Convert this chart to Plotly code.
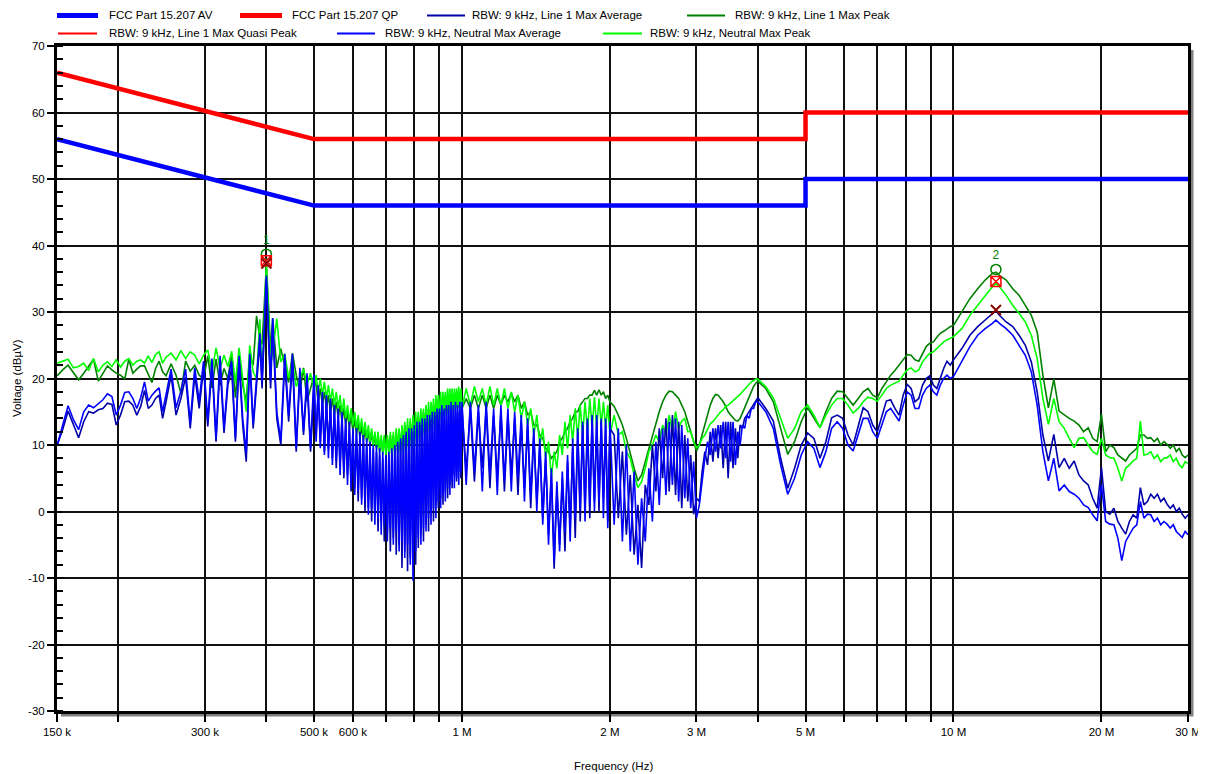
import plotly.graph_objects as go

# ---------------- data (frequency in MHz, level in dBuV) ----------------
freq_mhz = [
    0.150, 0.154, 0.158, 0.162, 0.166, 0.170, 0.174, 0.178, 0.182, 0.186, 0.190, 0.194, 0.198,
    0.202, 0.206, 0.210, 0.214, 0.218, 0.222, 0.226, 0.230, 0.234, 0.238, 0.242, 0.246, 0.250,
    0.256, 0.262, 0.268, 0.274, 0.280, 0.286, 0.292, 0.298, 0.304, 0.310, 0.316, 0.322, 0.328,
    0.334, 0.340, 0.346, 0.352, 0.358, 0.364, 0.370, 0.376, 0.382, 0.388,
    0.392, 0.396, 0.400, 0.404, 0.408,
    0.412, 0.420, 0.428, 0.436, 0.444, 0.452, 0.460, 0.468, 0.476, 0.484, 0.492, 0.500,
    0.505, 0.510, 0.515, 0.520, 0.525, 0.530, 0.535, 0.540, 0.545, 0.550,
    0.555, 0.560, 0.565, 0.570, 0.575, 0.580, 0.585, 0.590, 0.595, 0.600,
    0.605, 0.610, 0.615, 0.620, 0.625, 0.630, 0.635, 0.640, 0.645, 0.650,
    0.655, 0.660, 0.665, 0.670, 0.675, 0.680, 0.685, 0.690, 0.695, 0.700,
    0.705, 0.710, 0.715, 0.720, 0.725, 0.730, 0.735, 0.740, 0.745, 0.750,
    0.755, 0.760, 0.765, 0.770, 0.775, 0.780, 0.785, 0.790, 0.795, 0.800,
    0.805, 0.810, 0.815, 0.820, 0.825, 0.830, 0.835, 0.840, 0.845, 0.850,
    0.855, 0.860, 0.865, 0.870, 0.875, 0.880, 0.885, 0.890, 0.895, 0.900,
    0.905, 0.910, 0.915, 0.920, 0.925, 0.930, 0.935, 0.940, 0.945, 0.950,
    0.955, 0.960, 0.965, 0.970, 0.975, 0.980, 0.985, 0.990, 0.995, 1.000,
    1.02, 1.04, 1.06, 1.08, 1.10, 1.12, 1.14, 1.16, 1.18, 1.20,
    1.22, 1.24, 1.26, 1.28, 1.30, 1.32, 1.34, 1.36, 1.38, 1.40,
    1.42, 1.44, 1.46, 1.48, 1.50, 1.52, 1.54, 1.56, 1.58, 1.60,
    1.62, 1.64, 1.66, 1.68, 1.70, 1.72, 1.74, 1.76, 1.78, 1.80,
    1.82, 1.84, 1.86, 1.88, 1.90, 1.92, 1.94, 1.96, 1.98, 2.00,
    2.04, 2.08, 2.12, 2.16, 2.20, 2.24, 2.28, 2.32, 2.36, 2.40,
    2.44, 2.48, 2.52, 2.56, 2.60, 2.64, 2.68, 2.72, 2.76, 2.80,
    2.84, 2.88, 2.92, 2.96, 3.00, 3.04, 3.08, 3.12, 3.16, 3.20,
    3.24, 3.28, 3.32, 3.36, 3.40, 3.44, 3.48, 3.52, 3.56, 3.60,
    3.64, 3.68, 3.72, 3.76, 3.80, 3.84, 3.88, 3.92, 3.96, 4.00,
    4.15, 4.30, 4.45, 4.60, 4.75, 4.90, 5.05, 5.20, 5.35, 5.50, 5.65, 5.80, 5.95, 6.10, 6.25,
    6.40, 6.55, 6.70, 6.85, 7.00, 7.15, 7.30, 7.45, 7.60, 7.75, 7.90, 8.05, 8.20, 8.35, 8.50,
    8.65, 8.80, 8.95, 9.10, 9.25, 9.40, 9.55, 9.70, 9.85, 10.0,
    10.4, 10.8, 11.2, 11.6, 12.0, 12.2, 12.4, 12.8, 13.2, 13.6, 14.0, 14.4, 14.8, 15.2, 15.6,
    16.0, 16.4, 16.8, 17.2, 17.6, 18.0, 18.4, 18.8, 19.2, 19.6, 20.0, 20.4, 20.8, 21.2, 21.6,
    22.0, 22.4, 22.8, 23.2, 23.6, 24.0, 24.4, 24.8, 25.2, 25.6, 26.0, 26.4, 26.8, 27.2, 27.6,
    28.0, 28.4, 28.8, 29.2, 29.6, 30.0,
]

line1_pk = [
    20.4, 21.3, 22.0, 20.8, 19.8, 20.8, 21.8, 22.9, 19.6, 20.8, 21.9, 21.3, 20.8, 20.5, 19.9,
    22.9, 20.8, 21.4, 21.9, 21.9, 20.5, 19.4, 21.5, 22.6, 21.0, 20.4,
    22.2, 20.5, 17.8, 22.6, 21.1, 22.0, 20.5, 19.9, 23.4, 18.6, 22.9, 19.0, 21.5, 20.0, 23.7,
    17.1, 23.7, 19.0, 16.6, 23.4, 22.0, 29.4, 26.0,
    25.1, 31.0, 37.0, 31.0, 24.0,
    29.1, 21.6, 24.5, 22.0, 19.4, 23.8, 20.5, 18.1, 21.6, 16.6, 18.5, 20.4,
    19.0, 16.5, 18.5, 16.0, 18.0, 15.5, 17.5, 15.0, 17.0, 14.5,
    16.5, 14.0, 16.0, 13.5, 15.5, 13.0, 15.0, 12.5, 14.5, 12.0,
    14.0, 11.5, 13.5, 11.0, 13.0, 10.5, 12.5, 10.5, 12.0, 10.0,
    12.0, 9.8, 11.5, 9.5, 11.5, 9.0, 11.0, 9.0, 11.2, 9.0,
    11.0, 9.0, 11.5, 8.5, 11.5, 9.0, 12.0, 9.0, 12.2, 9.2,
    12.5, 9.5, 13.0, 9.0, 13.0, 9.5, 13.5, 10.0, 14.0, 10.0,
    14.0, 10.5, 14.5, 11.0, 14.5, 11.5, 15.0, 11.5, 15.5, 12.0,
    15.5, 12.0, 16.0, 12.5, 16.0, 13.0, 16.5, 13.5, 17.0, 13.8,
    17.0, 14.0, 17.0, 14.5, 17.5, 14.5, 17.5, 15.0, 17.5, 15.0,
    17.5, 15.0, 17.5, 15.5, 17.5, 15.5, 17.5, 15.5, 17.5, 15.5,
    17.0, 15.5, 17.5, 15.5, 17.5, 15.5, 17.5, 15.5, 17.5, 16.0,
    17.5, 16.5, 17.8, 16.5, 17.5, 15.5, 16.5, 14.5, 15.0, 13.0,
    13.0, 11.5, 11.0, 9.5, 9.0, 8.0, 8.5, 9.0, 10.5, 11.0,
    12.0, 12.5, 13.5, 14.0, 15.0, 15.0, 16.0, 16.5, 17.0, 17.0,
    17.5, 17.5, 18.2, 17.5, 18.3, 17.5, 18.0, 17.0, 17.5, 16.5,
    15.8, 14.5, 13.0, 11.0, 8.5, 6.5, 4.6, 5.5, 7.5, 9.5,
    11.5, 13.5, 15.0, 16.5, 17.5, 18.1, 18.0, 17.5, 17.0, 16.0,
    15.0, 13.5, 12.0, 10.5, 9.1, 10.0, 11.5, 13.0, 14.5, 16.0,
    17.0, 17.6, 17.5, 17.0, 16.5, 15.8, 15.0, 14.5, 14.0, 13.7,
    13.6, 14.0, 14.8, 15.6, 16.5, 17.3, 18.0, 18.8, 19.3, 19.6,
    18.5, 16.5, 12.5, 8.6, 10.5, 13.5, 15.6, 14.0, 12.6, 15.0, 17.0, 18.1, 18.0, 17.0, 16.0,
    17.0, 18.0, 18.5, 17.5, 17.1, 18.5, 19.5, 20.5, 21.2, 22.0, 22.8, 23.6, 23.5, 22.8, 22.6,
    23.8, 24.8, 25.3, 25.5, 26.2, 26.8, 27.1, 27.5, 27.8, 28.0,
    30.0, 32.0, 33.5, 34.8, 35.8, 36.0, 35.5, 34.8, 33.5, 32.5, 31.0, 29.5, 27.0, 20.5, 15.6,
    19.9, 15.1, 14.5, 14.0, 13.6, 13.0, 12.0, 12.6, 11.0, 10.5, 14.6, 9.0, 10.0, 9.6, 8.5,
    8.0, 7.6, 8.5, 9.0, 9.5, 11.5, 11.5, 11.0, 11.1, 10.5, 11.0, 10.0, 10.5, 10.1, 9.5,
    10.0, 9.0, 9.5, 8.5, 8.1, 8.5,
]

neutral_pk = [
    22.3, 22.6, 22.9, 21.6, 21.8, 22.3, 21.2, 23.0, 21.0, 22.0, 22.5, 21.8, 22.8, 21.7, 22.6,
    23.0, 22.0, 22.6, 22.8, 22.3, 23.4, 22.4, 23.6, 24.0, 22.3, 23.2,
    23.8, 22.8, 24.2, 23.0, 24.0, 23.5, 22.2, 23.5, 24.3, 21.0, 24.6, 21.5, 23.5, 21.8, 24.1,
    19.3, 24.6, 20.0, 15.0, 25.0, 21.0, 20.0, 28.9,
    20.0, 30.0, 37.0, 30.0, 22.0,
    24.0, 29.0, 22.5, 23.7, 20.1, 22.2, 18.8, 20.0, 21.4, 19.1, 20.8, 18.4,
    20.5, 18.0, 20.0, 17.5, 19.5, 17.0, 19.0, 16.5, 18.5, 16.0,
    18.0, 15.5, 17.5, 14.5, 17.0, 14.0, 16.0, 13.5, 15.5, 13.0,
    15.0, 12.5, 14.5, 12.0, 14.0, 11.5, 13.5, 11.0, 13.0, 10.5,
    12.5, 10.0, 12.0, 9.5, 12.0, 9.0, 11.5, 8.5, 11.5, 8.5,
    11.5, 8.5, 12.0, 8.0, 12.0, 8.5, 12.5, 9.0, 12.5, 8.5,
    13.0, 9.0, 13.5, 8.5, 14.0, 9.0, 14.0, 9.5, 14.5, 9.5,
    15.0, 10.0, 15.0, 10.5, 15.5, 11.0, 15.5, 11.0, 16.0, 11.5,
    16.5, 12.0, 16.5, 12.5, 17.0, 12.5, 17.5, 13.0, 17.5, 13.5,
    18.0, 14.0, 18.0, 14.5, 18.0, 14.5, 18.5, 15.0, 18.5, 15.0,
    18.5, 15.0, 18.5, 15.5, 18.5, 15.5, 18.8, 15.5, 18.5, 15.5,
    18.5, 16.0, 18.8, 16.5, 18.5, 16.0, 18.8, 16.0, 18.5, 16.0,
    18.5, 15.5, 18.0, 15.0, 17.5, 14.0, 16.5, 13.0, 15.5, 11.5,
    14.5, 10.0, 12.5, 8.0, 10.5, 5.0, 9.0, 6.5, 11.5, 8.5,
    13.5, 9.5, 14.5, 10.5, 15.5, 11.0, 16.0, 11.5, 16.5, 12.0,
    17.0, 12.5, 17.2, 12.5, 17.0, 13.0, 16.5, 12.5, 16.0, 11.5,
    14.5, 11.5, 12.0, 9.0, 8.0, 5.5, 3.6, 4.5, 6.5, 9.0,
    10.0, 11.5, 10.5, 13.0, 11.5, 14.5, 12.0, 15.0, 12.5, 13.6,
    14.0, 12.0, 12.0, 10.5, 9.6, 10.0, 11.0, 11.5, 12.5, 13.2,
    13.5, 14.0, 14.5, 15.0, 15.3, 15.8, 16.0, 16.3, 16.6, 17.0,
    17.3, 17.6, 18.0, 18.4, 18.8, 19.2, 19.5, 19.7, 19.9, 19.9,
    18.8, 17.1, 14.0, 11.0, 12.5, 15.0, 16.0, 14.5, 12.6, 14.5, 16.0, 17.0, 17.0, 16.0, 14.8,
    15.5, 16.5, 17.2, 17.0, 16.6, 17.5, 18.5, 19.0, 19.3, 19.6, 20.5, 21.3, 21.6, 21.0, 21.3,
    22.5, 23.2, 23.8, 24.0, 24.5, 25.0, 25.5, 25.8, 26.0, 26.3,
    27.5, 29.5, 31.0, 32.5, 33.8, 34.3, 33.8, 32.5, 31.0, 29.8, 28.5, 26.5, 23.0, 17.0, 13.1,
    17.0, 13.5, 12.5, 11.0, 9.6, 11.0, 11.1, 10.0, 9.0, 8.6, 11.0, 8.5, 8.1, 8.0, 6.5,
    4.6, 6.5, 7.0, 7.6, 8.0, 13.6, 8.5, 8.6, 9.0, 8.0, 8.5, 7.5, 8.0, 8.1, 8.5,
    7.5, 8.0, 7.0, 6.6, 7.5, 7.2,
]

line1_avg = [
    9.9, 12.3, 15.1, 13.2, 11.1, 13.5, 15.0, 14.8, 15.3, 15.5, 16.3, 16.1, 13.0, 14.5, 16.5,
    16.6, 16.0, 14.5, 15.8, 18.2, 15.5, 16.0, 17.0, 17.5, 14.0, 16.5,
    20.5, 14.5, 17.0, 20.2, 12.5, 20.5, 15.5, 21.5, 12.8, 22.0, 10.5, 22.0, 11.8, 19.0, 21.5,
    10.5, 22.5, 13.0, 7.5, 22.8, 12.5, 19.0, 25.5,
    18.5, 26.0, 35.0, 26.0, 18.5,
    28.0, 14.0, 10.0, 22.5, 13.5, 22.5, 9.0, 20.5, 11.5, 19.5, 9.0, 19.0,
    11.5, 18.0, 10.5, 17.0, 9.0, 16.5, 9.5, 16.0, 8.0, 15.0,
    6.5, 14.5, 7.0, 14.0, 5.0, 13.0, 5.5, 12.5, 3.0, 12.0,
    3.5, 11.5, 1.5, 11.0, 2.0, 10.5, 0.0, 10.0, 0.5, 9.5,
    -1.5, 9.5, -0.5, 9.0, -3.0, 8.5, -1.5, 8.0, -4.5, 7.5,
    -3.0, 8.5, -6.0, 9.0, -4.0, 9.5, -6.5, 10.0, -5.0, 10.5,
    -8.5, 11.0, -6.0, 11.5, -9.0, 11.5, -7.0, 12.0, -6.5, 12.0,
    -8.0, 12.5, -5.5, 13.0, -3.5, 13.0, -4.5, 13.5, -2.0, 13.5,
    -3.0, 14.0, 0.0, 14.0, -1.5, 14.5, 1.0, 14.5, 0.5, 15.0,
    2.0, 15.0, 1.0, 15.0, 3.0, 15.5, 2.0, 15.0, 4.0, 15.5,
    3.5, 15.0, 5.5, 15.5, 4.5, 15.0, 6.0, 15.5, 5.0, 15.5,
    6.0, 15.5, 4.5, 15.0, 6.5, 15.5, 3.5, 14.5, 5.0, 15.0,
    3.0, 14.5, 5.5, 14.0, 2.5, 13.5, 3.5, 13.0, 0.5, 11.5,
    1.5, 10.0, -1.0, 8.0, -3.5, 5.5, -8.6, 3.5, -5.0, 5.0,
    -6.0, 7.5, -2.5, 9.5, -4.0, 12.0, -1.5, 13.0, 0.5, 13.5,
    -1.0, 14.0, 1.5, 13.5, 0.0, 13.5, 2.0, 13.0, -1.5, 12.5,
    11.5, -1.0, 9.0, -3.5, 5.5, -6.5, 1.0, -8.5, 4.0, 1.0,
    10.0, 3.0, 12.5, 5.0, 14.0, 3.0, 14.5, 2.5, 13.5, 0.5,
    11.5, 1.5, 8.5, -0.4, 2.0, 1.5, 6.0, 9.0, 7.0, 12.0,
    7.5, 12.5, 8.0, 13.0, 6.5, 13.5, 5.0, 13.5, 6.5, 12.5,
    8.0, 13.0, 12.5, 14.0, 14.5, 15.0, 15.5, 16.0, 16.5, 17.1,
    15.5, 13.6, 8.0, 3.5, 6.5, 10.0, 11.8, 11.0, 8.0, 10.5, 14.1, 14.5, 14.0, 11.5, 10.0,
    13.0, 15.6, 15.0, 13.0, 12.0, 14.5, 16.6, 16.8, 15.5, 14.5, 17.5, 19.1, 18.5, 16.5, 17.0,
    19.0, 20.0, 20.4, 19.0, 18.5, 20.0, 21.5, 22.6, 22.0, 22.8,
    24.5, 26.5, 27.8, 28.8, 29.8, 30.2, 29.5, 28.5, 27.8, 26.5, 25.0, 22.5, 18.0, 11.5, 7.6,
    11.6, 6.6, 8.0, 6.5, 7.6, 5.5, 4.6, 4.0, 2.0, 0.5, 6.6, 0.0, -0.4, 0.5, -1.5,
    -2.5, -3.4, -1.5, -0.5, -1.0, 3.6, 1.0, 1.5, 2.6, 2.0, 2.6, 1.5, 2.0, 1.1, 0.5,
    1.0, 0.0, 0.5, -0.4, -1.0, -0.5,
]

neutral_avg = [
    9.9, 13.0, 15.9, 13.8, 12.3, 15.0, 16.0, 15.6, 16.2, 16.8, 17.7, 17.3, 14.5, 16.0, 17.9,
    18.0, 17.0, 15.5, 17.1, 19.5, 16.6, 17.5, 18.1, 18.6, 15.0, 17.5,
    21.4, 15.6, 18.1, 21.4, 13.3, 21.6, 16.6, 22.6, 13.6, 23.0, 11.1, 23.4, 12.6, 20.0, 22.6,
    11.1, 23.4, 14.0, 8.8, 23.7, 13.2, 20.0, 26.8,
    19.6, 27.0, 35.5, 27.0, 19.6,
    29.1, 15.0, 10.6, 23.7, 14.4, 23.7, 9.6, 21.6, 12.1, 20.8, 9.6, 20.6,
    10.5, 19.0, 9.5, 18.0, 8.5, 17.5, 8.0, 17.0, 7.0, 16.0,
    7.6, 15.5, 5.5, 15.0, 6.0, 14.0, 4.0, 13.5, 3.5, 12.5,
    2.5, 12.5, 3.0, 12.0, 1.0, 11.5, 1.5, 11.0, -0.5, 10.5,
    0.5, 10.0, -2.0, 10.0, -1.0, 9.5, -3.5, 9.0, -2.0, 8.5,
    -4.5, 9.0, -2.5, 9.5, -5.0, 10.0, -3.0, 10.5, -6.0, 11.0,
    -4.5, 11.5, -7.0, 12.0, -5.0, 12.5, -8.0, 12.5, -10.4, 13.0,
    -6.0, 13.5, -4.0, 13.5, -5.0, 14.0, -2.5, 14.0, -3.0, 14.5,
    -1.0, 14.5, -2.0, 15.0, 0.5, 15.0, -1.0, 15.5, 1.5, 15.5,
    0.5, 16.0, 2.5, 15.5, 1.5, 16.0, 3.5, 16.0, 2.5, 16.5,
    4.5, 16.0, 3.5, 16.5, 5.0, 16.0, 4.0, 16.5, 6.0, 16.5,
    4.0, 16.5, 6.0, 16.0, 3.0, 16.5, 5.5, 15.5, 2.5, 16.0,
    4.5, 15.5, 3.0, 15.0, 5.0, 14.5, 1.5, 14.0, 2.0, 12.5,
    0.0, 11.0, -2.0, 9.0, -5.0, 6.5, -7.5, 4.5, -6.0, 6.0,
    -3.0, 8.5, -4.5, 11.0, -1.0, 12.5, 0.5, 13.5, -1.5, 14.0,
    1.0, 14.5, 0.0, 14.5, 1.5, 14.0, -1.0, 14.0, -2.5, 13.5,
    -2.0, 12.5, -4.5, 10.0, -6.0, 6.0, -8.0, 2.0, -4.5, 6.5,
    -1.5, 10.5, 1.0, 12.5, 2.5, 13.5, 4.0, 14.0, 1.5, 13.0,
    2.0, 11.0, 0.5, 7.5, -1.0, 1.0, 4.5, 8.0, 10.5, 8.5,
    12.5, 9.0, 13.0, 9.5, 13.5, 8.0, 13.5, 7.5, 13.5, 7.0,
    12.0, 10.0, 13.0, 12.5, 14.5, 14.0, 15.5, 15.5, 16.5, 16.5,
    15.0, 12.5, 7.0, 2.6, 5.0, 8.5, 10.5, 9.5, 6.6, 9.0, 12.5, 13.5, 12.5, 10.0, 9.1,
    11.5, 14.0, 14.0, 12.0, 11.0, 13.0, 15.0, 15.5, 14.5, 13.6, 16.0, 18.0, 17.5, 15.5, 15.5,
    17.5, 18.5, 19.0, 18.0, 17.5, 19.0, 20.0, 20.5, 20.0, 20.3,
    22.5, 24.8, 26.5, 27.5, 28.3, 28.8, 28.3, 27.5, 26.5, 25.0, 23.5, 21.0, 16.0, 9.0, 4.6,
    8.0, 3.1, 4.0, 3.0, 2.6, 2.0, 1.0, 0.6, -0.5, -1.4, 4.0, -1.5, -1.9, -2.0, -4.0,
    -7.4, -4.5, -3.4, -2.5, -2.0, 1.5, -1.0, -0.4, -0.5, -1.5, -1.0, -2.0, -1.5, -1.9, -2.5,
    -2.0, -3.0, -3.5, -3.9, -3.0, -3.5,
]

# FCC Part 15.207 limits
limit_freq = [0.15, 0.5, 5.0, 5.0, 30.0]
limit_av = [56, 46, 46, 50, 50]
limit_qp = [66, 56, 56, 60, 60]

# final measurement markers
marker_freq = [0.400, 12.2]
marker_label = ["1", "2"]
marker_pk = [38.7, 36.4]
marker_qp = [37.7, 34.6]
marker_av = [37.3, 30.3]

x_tick_vals = [0.15, 0.2, 0.3, 0.4, 0.5, 0.6, 0.7, 0.8, 0.9, 1, 2, 3, 4, 5, 6, 7, 8, 9, 10, 20, 30]
x_tick_text = ["150 k", "", "300 k", "", "500 k", "600 k", "", "", "", "1 M", "2 M", "3 M", "",
               "5 M", "", "", "", "", "10 M", "20 M", "30 M"]
y_tick_vals = [-30, -20, -10, 0, 10, 20, 30, 40, 50, 60, 70]
y_tick_text = ["-30", "-20", "-10", "0", "10", "20", "30", "40", "50", "60", "70"]

for arr in (line1_pk, neutral_pk, line1_avg, neutral_avg):
    if len(arr) != len(freq_mhz):
        raise SystemExit(f"length mismatch {len(arr)} vs {len(freq_mhz)}")

# ---------------- figure ----------------
FONT = "Liberation Sans, Arial, sans-serif"
OFF = 8                      # page offset of the figure (default body margin)
W, H = 1198, 766
ML, MR, MT, MB = 49, 18, 38, 63
PW, PH = W - ML - MR, H - MT - MB


def px(page_x):
    return (page_x - OFF - ML) / PW


def py(page_y):
    return (H - MB - (page_y - OFF)) / PH


fig = go.Figure()

series = [
    ("RBW: 9 kHz, Line 1 Max Peak", line1_pk, "#008000"),
    ("RBW: 9 kHz, Neutral Max Peak", neutral_pk, "#00FF00"),
    ("RBW: 9 kHz, Line 1 Max Average", line1_avg, "#0000AA"),
    ("RBW: 9 kHz, Neutral Max Average", neutral_avg, "#0000FF"),
]
for name, vals, col in series:
    fig.add_trace(go.Scatter(x=freq_mhz, y=vals, mode="lines", name=name,
                             line=dict(color=col, width=1.6), showlegend=False))

fig.add_trace(go.Scatter(x=limit_freq, y=limit_av, mode="lines", name="FCC Part 15.207 AV",
                         line=dict(color="#0000FF", width=4.5), showlegend=False))
fig.add_trace(go.Scatter(x=limit_freq, y=limit_qp, mode="lines", name="FCC Part 15.207 QP",
                         line=dict(color="#FF0000", width=4.5), showlegend=False))

fig.add_trace(go.Scatter(x=marker_freq, y=marker_pk, mode="markers+text", text=marker_label,
                         textposition="top center",
                         textfont=dict(color="#008000", size=12, family=FONT),
                         marker=dict(symbol="circle-open", size=10, color="#008000",
                                     line=dict(width=1.5, color="#008000")),
                         showlegend=False))
fig.add_trace(go.Scatter(x=marker_freq, y=marker_qp, mode="markers",
                         name="RBW: 9 kHz, Line 1 Max Quasi Peak",
                         marker=dict(symbol="square-x-open", size=10, color="#FF0000",
                                     line=dict(width=1.5, color="#FF0000")),
                         showlegend=False))
fig.add_trace(go.Scatter(x=marker_freq, y=marker_av, mode="markers",
                         marker=dict(symbol="x-thin-open", size=10, color="#8B0000",
                                     line=dict(width=2, color="#8B0000")),
                         showlegend=False))

shapes = [
    # drop shadow of the plot frame
    dict(type="rect", xref="paper", yref="paper", x0=px(61), x1=px(1193.5), y0=py(716.5), y1=py(50),
         fillcolor="#808080", line=dict(width=0), layer="below"),
    dict(type="rect", xref="paper", yref="paper", x0=0, x1=1, y0=0, y1=1,
         fillcolor="white", line=dict(width=0), layer="below"),
]

annotations = []
legend_items = [
    (57, 98, 15.5, "#0000FF", 5, 107, "FCC Part 15.207 AV"),
    (240, 282, 15.5, "#FF0000", 5, 290, "FCC Part 15.207 QP"),
    (427, 465, 15.5, "#0000AA", 2, 470, "RBW: 9 kHz, Line 1 Max Average"),
    (687, 725, 15.5, "#008000", 2, 733, "RBW: 9 kHz, Line 1 Max Peak"),
    (58, 97, 33.5, "#FF0000", 2, 107, "RBW: 9 kHz, Line 1 Max Quasi Peak"),
    (337, 375, 33.5, "#0000FF", 2, 383, "RBW: 9 kHz, Neutral Max Average"),
    (603, 642, 33.5, "#00FF00", 2, 648, "RBW: 9 kHz, Neutral Max Peak"),
]
for x0, x1, yy, col, wdt, tx, label in legend_items:
    shapes.append(dict(type="line", xref="paper", yref="paper", x0=px(x0), x1=px(x1),
                       y0=py(yy), y1=py(yy), line=dict(color=col, width=wdt)))
    annotations.append(dict(xref="paper", yref="paper", x=px(tx), y=py(yy - 0.5), text=label,
                            showarrow=False, xanchor="left", yanchor="middle",
                            font=dict(family=FONT, size=11.5, color="black")))

annotations.append(dict(xref="paper", yref="paper", x=px(613), y=py(766), text="Frequency (Hz)",
                        showarrow=False, xanchor="center", yanchor="middle",
                        font=dict(family=FONT, size=11.5, color="black")))
annotations.append(dict(xref="paper", yref="paper", x=px(17), y=py(378), text="Voltage (dBµV)",
                        textangle=-90, showarrow=False, xanchor="center", yanchor="middle",
                        font=dict(family=FONT, size=11.5, color="black")))

fig.update_layout(
    width=W, height=H,
    margin=dict(l=ML, r=MR, t=MT, b=MB, pad=0),
    paper_bgcolor="white", plot_bgcolor="white",
    font=dict(family=FONT, size=11.5, color="black"),
    shapes=shapes, annotations=annotations, showlegend=False,
    xaxis=dict(type="log", range=[-0.82391, 1.47712], tickmode="array",
               tickvals=x_tick_vals, ticktext=x_tick_text, automargin=False,
               ticks="outside", ticklen=8, tickwidth=1.5, tickcolor="black",
               showgrid=True, gridcolor="#111111", gridwidth=1.5,
               showline=True, linewidth=3, linecolor="black", mirror=True,
               zeroline=False, tickfont=dict(family=FONT, size=11.5, color="black")),
    yaxis=dict(range=[-30, 70], tickmode="array", tickvals=y_tick_vals, ticktext=y_tick_text,
               automargin=False,
               ticks="outside", ticklen=7, tickwidth=1.5, tickcolor="black",
               showgrid=True, gridcolor="#111111", gridwidth=1.5,
               showline=True, linewidth=3, linecolor="black", mirror=True,
               zeroline=False, tickfont=dict(family=FONT, size=11.5, color="black"),
               minor=dict(dtick=2, tick0=0, ticks="inside", ticklen=6, tickwidth=1.5,
                          tickcolor="black", showgrid=False)),
)

fig.write_html("out.html")
